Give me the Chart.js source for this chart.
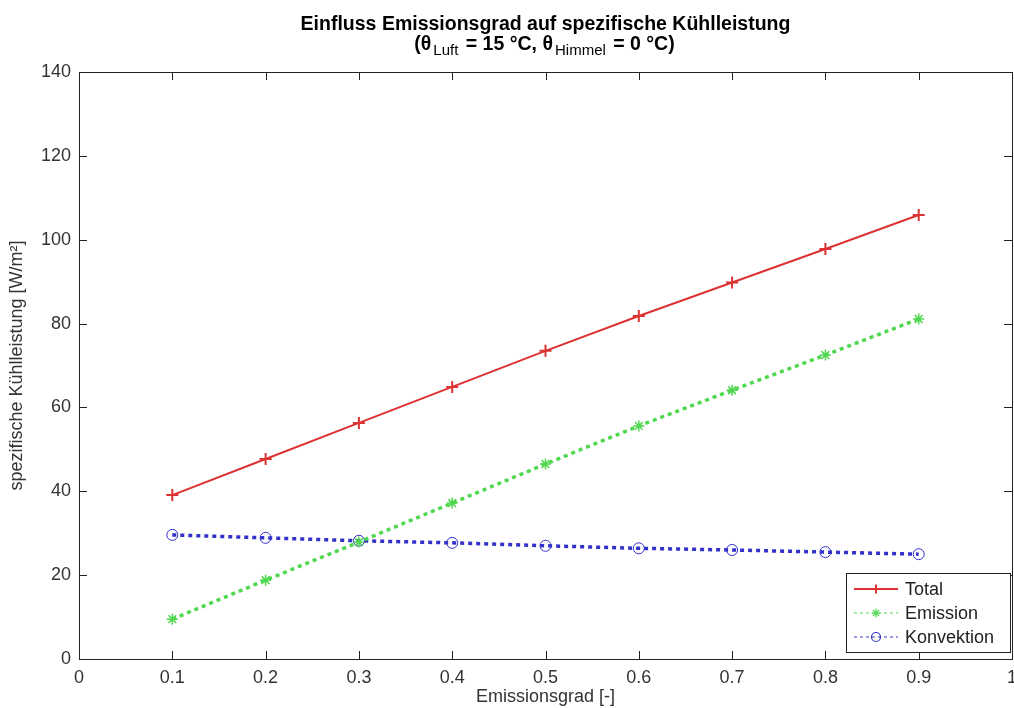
<!DOCTYPE html>
<html>
<head>
<meta charset="utf-8">
<script src="https://cdn.jsdelivr.net/npm/chart.js@4/dist/chart.umd.min.js"></script>
<style>
  html, body { margin: 0; padding: 0; background: #fff; overflow: hidden; }
  #wrap { position: absolute; left: 0; top: 0; width: 1030px; height: 708px; }
</style>
</head>
<body>
<div id="wrap"><canvas id="chart"></canvas></div>
<script>
// Werte
const emissionsgrad = [0.1, 0.2, 0.3, 0.4, 0.5, 0.6, 0.7, 0.8, 0.9];
const total = [39.1, 47.7, 56.3, 64.9, 73.5, 81.8, 89.8, 97.8, 105.9];
const emission = [9.5, 18.8, 27.9, 37.2, 46.5, 55.6, 64.1, 72.5, 81.1];
const konvektion = [29.6, 28.9, 28.2, 27.7, 27.0, 26.4, 26.0, 25.5, 25.0];
const xTicks = [0, 0.1, 0.2, 0.3, 0.4, 0.5, 0.6, 0.7, 0.8, 0.9, 1];
const yTicks = [0, 20, 40, 60, 80, 100, 120, 140];

const FONT = "'Liberation Sans', Arial, sans-serif";
const red = "rgb(220,50,50)";
const green = "rgb(80,215,80)";
const blue = "rgb(50,50,200)";

// Titel mit Indizes, Rahmen und Ticks nach innen, Legende im Plotbereich
const matlabLook = {
  id: "matlabLook",
  afterDraw(chart) {
    const ctx = chart.ctx;
    const a = chart.chartArea;
    const xs = chart.scales.x, ys = chart.scales.y;
    ctx.save();
    // Rahmen
    ctx.strokeStyle = "#222";
    ctx.lineWidth = 1;
    ctx.strokeRect(a.left + 0.5, a.top + 0.5, a.right - a.left, a.bottom - a.top);
    // Ticks innen
    ctx.beginPath();
    xTicks.forEach((v) => {
      const px = Math.round(xs.getPixelForValue(v)) + 0.5;
      ctx.moveTo(px, a.bottom); ctx.lineTo(px, a.bottom - 8);
      ctx.moveTo(px, a.top); ctx.lineTo(px, a.top + 8);
    });
    yTicks.forEach((v) => {
      const py = Math.round(ys.getPixelForValue(v)) + 0.5;
      ctx.moveTo(a.left, py); ctx.lineTo(a.left + 8, py);
      ctx.moveTo(a.right, py); ctx.lineTo(a.right - 8, py);
    });
    ctx.stroke();

    // Titel
    const cx = (a.left + a.right) / 2;
    ctx.fillStyle = "#000";
    ctx.textBaseline = "alphabetic";
    ctx.textAlign = "center";
    ctx.font = "bold 19.5px " + FONT;
    ctx.fillText("Einfluss Emissionsgrad auf spezifische Kühlleistung", cx, 30);
    const parts = [
      ["(θ", 0], ["Luft", 1], [" = 15 °C, θ", 0], ["Himmel", 1], [" = 0 °C)", 0]
    ];
    const big = "bold 19.5px " + FONT, small = "15px " + FONT;
    let w = 0;
    parts.forEach(([t, s]) => { ctx.font = s ? small : big; w += ctx.measureText(t).width + 2; });
    let x = cx - w / 2;
    ctx.textAlign = "left";
    parts.forEach(([t, s]) => {
      ctx.font = s ? small : big;
      ctx.fillText(t, x, s ? 55 : 50);
      x += ctx.measureText(t).width + 2;
    });

    // Legende
    const lx = 846, ly = 573, lw = 164, lh = 79;
    ctx.fillStyle = "#fff";
    ctx.fillRect(lx, ly, lw, lh);
    ctx.strokeStyle = "#222";
    ctx.lineWidth = 1;
    ctx.strokeRect(lx + 0.5, ly + 0.5, lw, lh);
    chart.data.datasets.forEach((ds, i) => {
      const yy = ly + 16 + i * 24;
      ctx.strokeStyle = ds.borderColor;
      ctx.fillStyle = ds.backgroundColor;
      ctx.lineWidth = i === 0 ? 2 : 1.2;
      ctx.setLineDash(i === 0 ? [] : [3, 3]);
      ctx.beginPath();
      ctx.moveTo(lx + 8, yy); ctx.lineTo(lx + 52, yy);
      ctx.stroke();
      ctx.setLineDash([]);
      Chart.helpers.drawPoint(ctx, {
        pointStyle: ds.pointStyle, radius: 4.5, borderWidth: 1.2
      }, lx + 30, yy);
      ctx.fillStyle = "#222";
      ctx.font = "18px " + FONT;
      ctx.textBaseline = "middle";
      ctx.fillText(ds.label, lx + 59, yy + 1);
    });
    ctx.restore();
  }
};

const pts = (arr) => emissionsgrad.map((x, i) => ({ x: x, y: arr[i] }));

new Chart(document.getElementById("chart"), {
  type: "line",
  data: {
    datasets: [
      {
        label: "Total",
        data: pts(total),
        borderColor: red,
        backgroundColor: red,
        borderWidth: 2,
        pointStyle: "cross",
        pointRadius: 6,
        pointBorderWidth: 2,
      },
      {
        label: "Emission",
        data: pts(emission),
        borderColor: green,
        backgroundColor: green,
        borderWidth: 3.5,
        borderDash: [4, 4],
        pointStyle: "star",
        pointRadius: 5.5,
        pointBorderWidth: 1.5,
      },
      {
        label: "Konvektion",
        data: pts(konvektion),
        borderColor: blue,
        backgroundColor: "rgba(0,0,0,0)",
        borderWidth: 3.5,
        borderDash: [4, 4],
        pointStyle: "circle",
        pointRadius: 5.5,
        pointBorderWidth: 1,
      },
    ],
  },
  options: {
    responsive: true,
    maintainAspectRatio: false,
    animation: false,
    layout: { padding: { top: 72, right: 18, left: 0, bottom: 0 } },
    plugins: {
      legend: { display: false },
      tooltip: { enabled: false },
    },
    scales: {
      x: {
        type: "linear",
        min: 0,
        max: 1,
        afterBuildTicks: (s) => { s.ticks = xTicks.map((v) => ({ value: v })); },
        afterFit: (s) => { s.height = 49; },
        grid: { display: false, drawOnChartArea: false },
        border: { display: false },
        ticks: {
          color: "#333",
          font: { family: FONT, size: 18 },
          padding: 0,
          maxRotation: 0,
          autoSkip: false,
          callback: (v) => String(v),
        },
        title: {
          display: true,
          text: "Emissionsgrad [-]",
          color: "#333",
          font: { family: FONT, size: 18 },
          padding: { top: 0, bottom: 0 },
        },
      },
      y: {
        min: 0,
        max: 140,
        afterBuildTicks: (s) => { s.ticks = yTicks.map((v) => ({ value: v })); },
        afterFit: (s) => { s.width = 79; },
        grid: { display: false, drawOnChartArea: false },
        border: { display: false },
        ticks: {
          color: "#333",
          font: { family: FONT, size: 18 },
          padding: 0,
        },
        title: {
          display: true,
          text: "spezifische Kühlleistung [W/m²]",
          color: "#333",
          font: { family: FONT, size: 18 },
          padding: { top: 6, bottom: 0 },
        },
      },
    },
  },
  plugins: [matlabLook],
});
</script>
</body>
</html>
